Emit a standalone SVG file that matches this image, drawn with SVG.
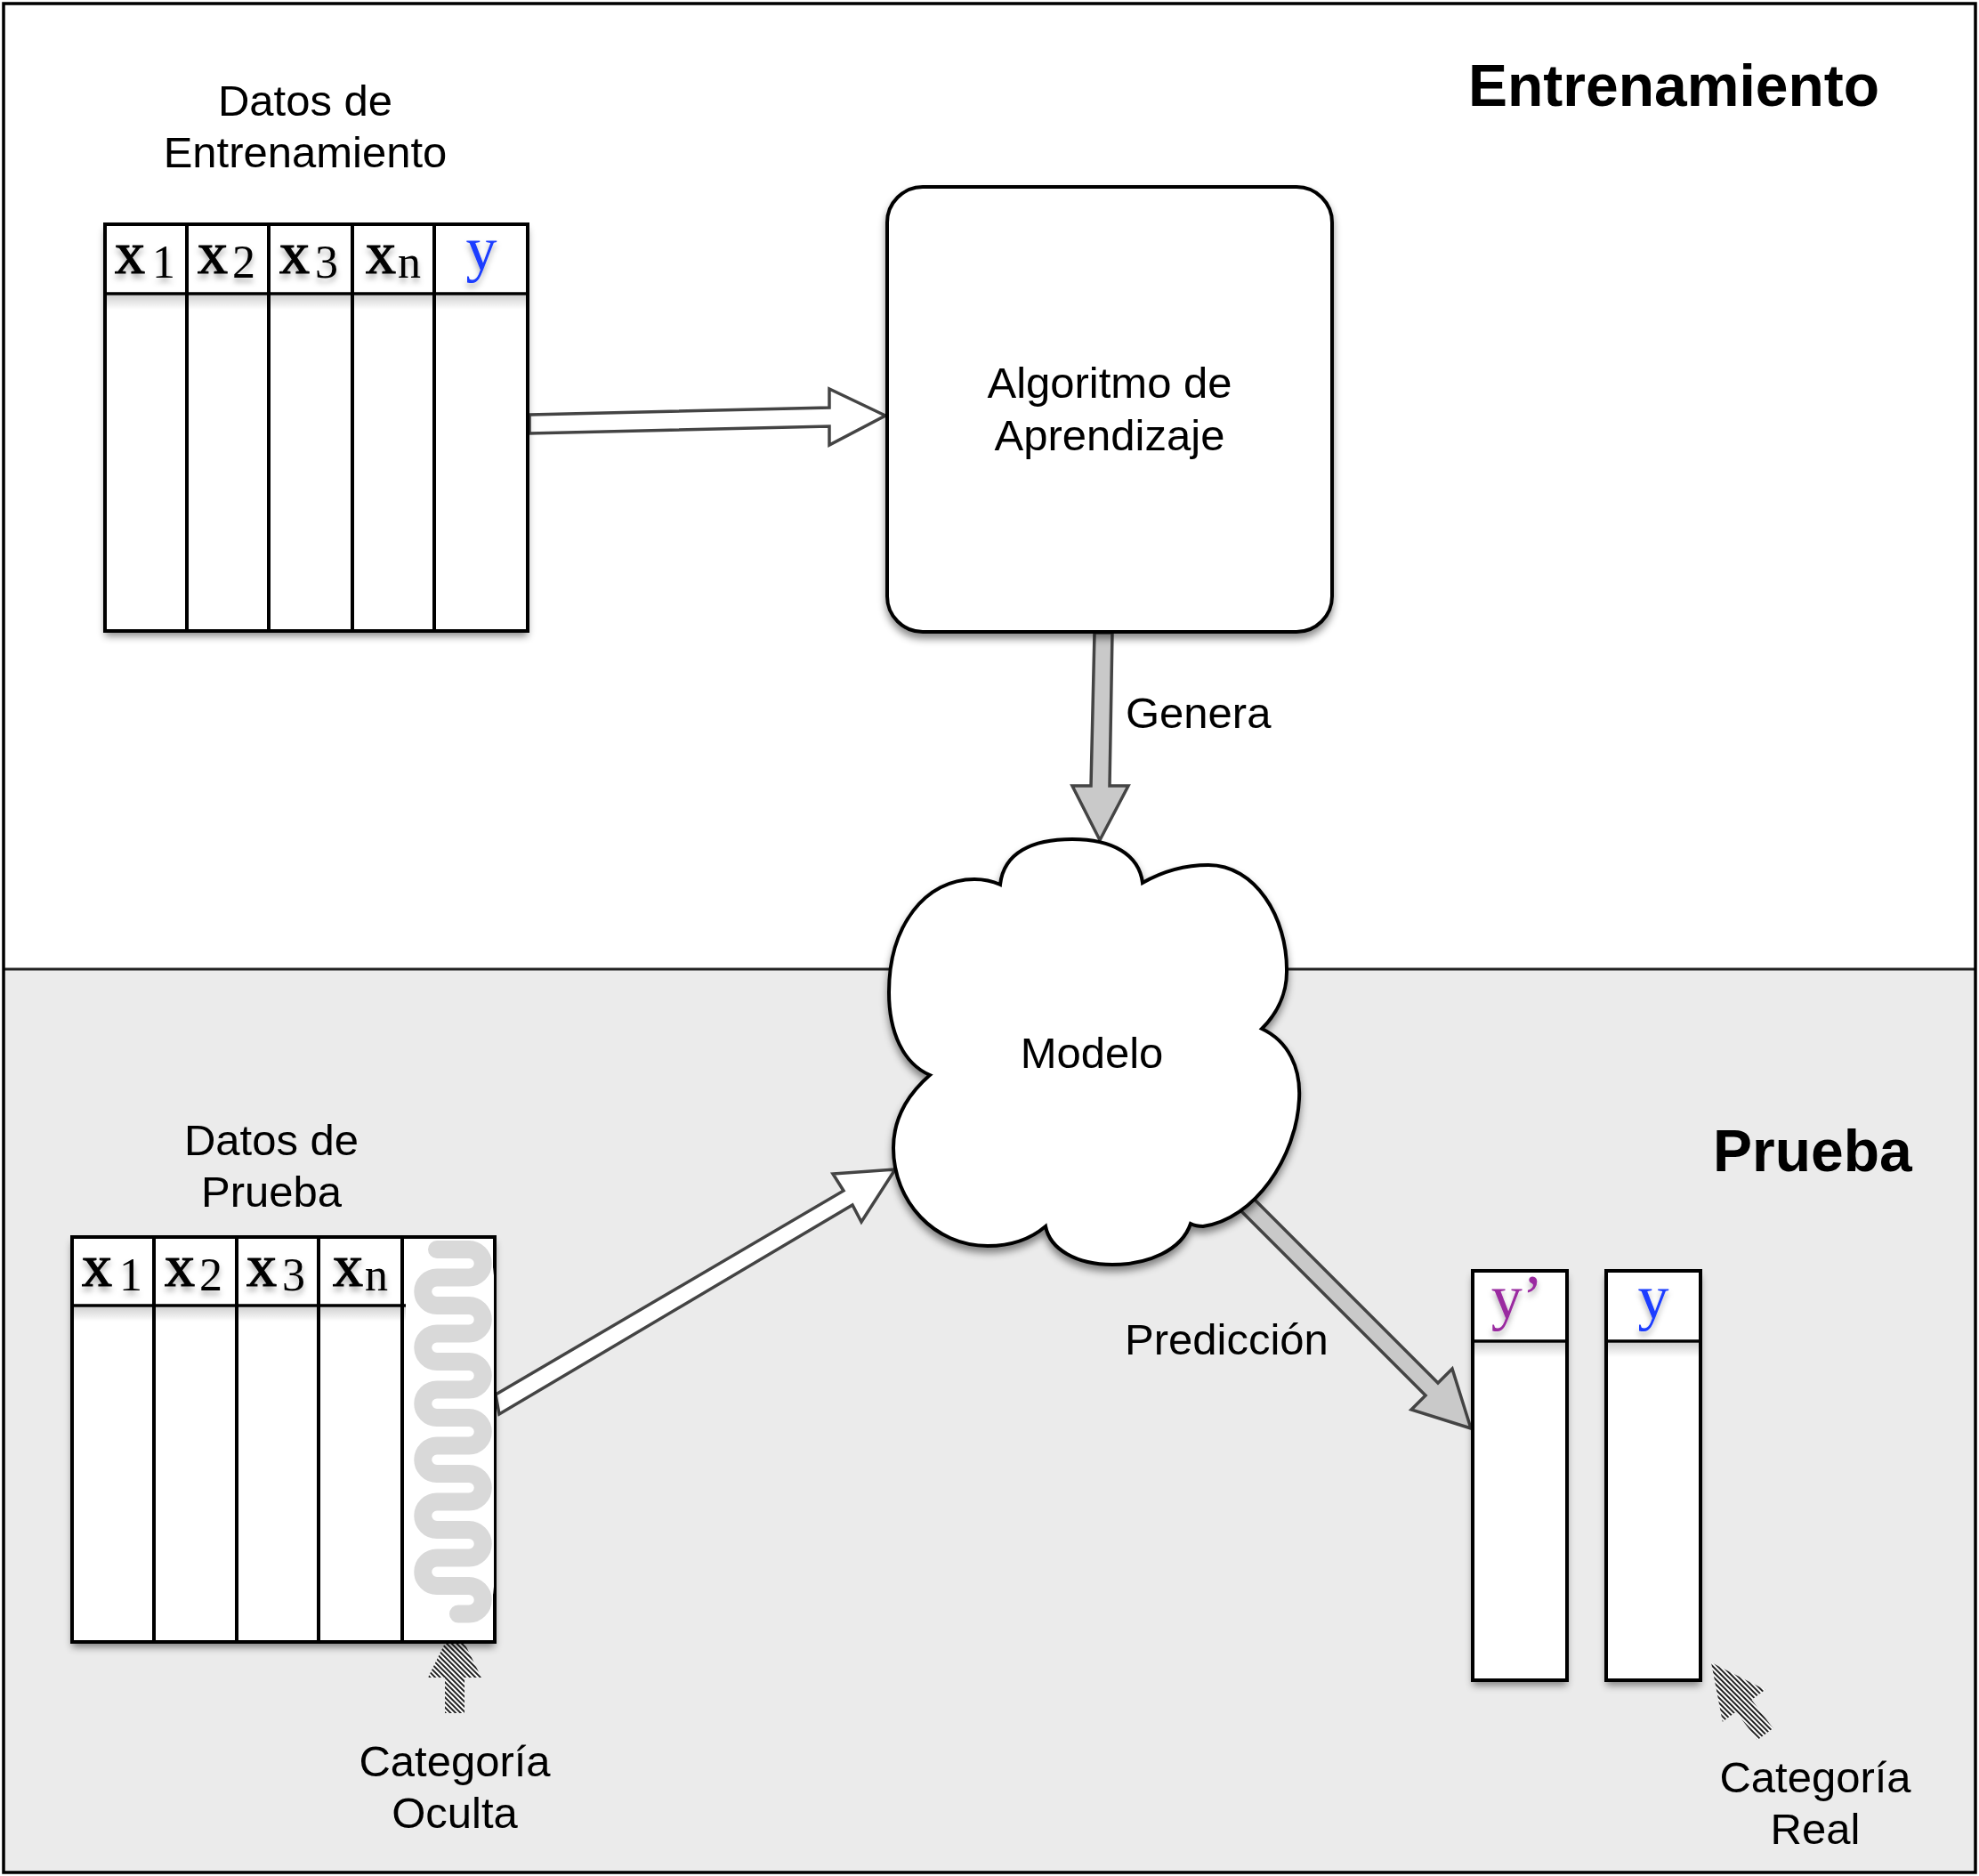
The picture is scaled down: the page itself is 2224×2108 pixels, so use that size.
<svg xmlns="http://www.w3.org/2000/svg" width="2224" height="2108" viewBox="0 0 2224 2108">
<defs>
<style>
.sans{font-family:"Liberation Sans",Arial,Helvetica,sans-serif;font-size:49px;fill:#000}
.title{font-family:"Liberation Sans",Arial,Helvetica,sans-serif;font-size:66px;font-weight:bold;fill:#000}
.ser{font-family:"Liberation Serif","Times New Roman",serif;fill:#000}
.xv{font-size:68px;font-weight:normal;stroke:#000;stroke-width:1.2}
.sub{font-size:52px}
.tbl{fill:none;stroke:#000;stroke-width:4}
.div{stroke:#000;stroke-width:4}
.hl{stroke:#000;stroke-width:3.5}
.hollow{fill:#fff;stroke:#444;stroke-width:3.5;stroke-linejoin:miter}
.solid{fill:#c9c9c9;stroke:#444;stroke-width:3.5;stroke-linejoin:miter}
.hatch{fill:url(#hatch);stroke:none}
</style>
<filter id="sh" x="-10%" y="-10%" width="120%" height="125%">
<feDropShadow dx="0" dy="6" stdDeviation="4" flood-color="#000" flood-opacity="0.45"/>
</filter>
<filter id="tsh" x="-20%" y="-20%" width="140%" height="160%">
<feDropShadow dx="0" dy="5" stdDeviation="3" flood-color="#000" flood-opacity="0.3"/>
</filter>
<linearGradient id="hg" x1="0" y1="0" x2="0" y2="1">
<stop offset="0" stop-color="#000" stop-opacity="0.18"/>
<stop offset="1" stop-color="#000" stop-opacity="0"/>
</linearGradient>
<pattern id="hatch" patternUnits="userSpaceOnUse" width="4" height="4" patternTransform="rotate(-45)">
<rect width="4" height="4" fill="#fff"/>
<rect width="2" height="4" fill="#222"/>
</pattern>
</defs>

<g id="background">
<rect x="4" y="4" width="2216" height="2100" fill="#fff"/>
<rect x="4" y="1089" width="2216" height="1015" fill="#ebebeb"/>
<line x1="4" y1="1089" x2="2220" y2="1089" stroke="#222" stroke-width="3"/>
<rect x="4" y="4" width="2216" height="2100" fill="none" stroke="#000" stroke-width="3.5"/>
<text class="title" x="1650" y="119">Entrenamiento</text>
<text class="title" x="1925" y="1316">Prueba</text>
</g>

<g id="connectors">
<polygon id="edge-train-algo" class="hollow" points="595,466 932,458 932,437 995,467 932,500 932,479 595,487"/>
<polygon id="edge-genera" class="solid" points="1230,711 1250,711 1247,883 1268,883 1236,944 1205,883 1226,883"/>
<text class="sans" x="1265" y="818">Genera</text>
<polygon id="edge-test-model" class="hollow" points="557,1567 948,1338 936,1319 1006,1314 968,1373 958,1354 561,1589"/>
<polygon id="edge-prediccion" class="solid" points="1387,1325 1616,1554 1632,1538 1653,1605 1586,1584 1602,1568 1373,1339"/>
<text class="sans" x="1264" y="1522">Predicción</text>
<polygon id="ptr-oculta" class="hatch" points="511,1824 541,1885 522,1885 522,1925 500,1925 500,1885 481,1885"/>
<polygon id="ptr-real" class="hatch" points="1923,1868 1983.7,1898.7 1968.5,1910.1 1992.6,1942.1 1975,1955.3 1950.9,1923.4 1935.8,1934.8"/>
</g>

<g id="train-label">
<text class="sans" text-anchor="middle" x="343" y="130">Datos de</text>
<text class="sans" text-anchor="middle" x="343" y="188">Entrenamiento</text>
</g>

<g id="train-data">
<rect x="118" y="252" width="475" height="457" fill="#fff" filter="url(#sh)"/>
<rect x="120" y="332" width="471" height="16" fill="url(#hg)"/>
<line class="div" x1="210" y1="252" x2="210" y2="709"/>
<line class="div" x1="302" y1="252" x2="302" y2="709"/>
<line class="div" x1="396" y1="252" x2="396" y2="709"/>
<line class="div" x1="488" y1="252" x2="488" y2="709"/>
<line class="hl" x1="118" y1="330" x2="593" y2="330"/>
<rect class="tbl" x="118" y="252" width="475" height="457"/>
<g filter="url(#tsh)">
<text class="ser" x="129" y="307"><tspan class="xv">x</tspan><tspan class="sub" dx="8" dy="5">1</tspan></text>
<text class="ser" x="222" y="307"><tspan class="xv">x</tspan><tspan class="sub" dx="5" dy="5">2</tspan></text>
<text class="ser" x="314" y="307"><tspan class="xv">x</tspan><tspan class="sub" dx="6" dy="5">3</tspan></text>
<text class="ser" x="411" y="307"><tspan class="xv">x</tspan><tspan class="sub" dx="2" dy="5">n</tspan></text>
<text class="ser" x="541" y="303" text-anchor="middle" font-size="70" style="fill:#1a3cff">y</text>
</g>
</g>

<g id="algoritmo">
<rect x="997" y="210" width="500" height="500" rx="40" ry="40" fill="#fff" stroke="#000" stroke-width="4" filter="url(#sh)"/>
<text class="sans" text-anchor="middle" x="1247" y="447">Algoritmo de</text>
<text class="sans" text-anchor="middle" x="1247" y="506">Aprendizaje</text>
</g>

<g id="modelo">
<path d="M1124,994 C1128,958 1160,943 1205,943 C1250,943 1280,960 1284,992 C1305,980 1330,972 1358,972 C1410,972 1447,1030 1446,1092 C1446,1120 1432,1142 1418,1156 C1448,1170 1462,1200 1460,1235 C1457,1300 1410,1370 1352,1378 C1346,1378 1342,1377 1338,1375 C1328,1405 1290,1421 1250,1421 C1210,1421 1180,1404 1175,1378 C1155,1395 1130,1400 1110,1400 C1050,1400 1004,1350 1004,1290 C1004,1255 1022,1228 1045,1208 C1015,1195 999,1160 999,1115 C999,1040 1040,988 1095,988 C1105,988 1115,990 1124,994 Z" fill="#fff" stroke="#000" stroke-width="4" filter="url(#sh)"/>
<text class="sans" text-anchor="middle" x="1227" y="1200">Modelo</text>
</g>

<g id="test-label">
<text class="sans" text-anchor="middle" x="305" y="1298">Datos de</text>
<text class="sans" text-anchor="middle" x="305" y="1356">Prueba</text>
</g>

<g id="test-data">
<rect x="81" y="1390" width="475" height="455" fill="#fff" filter="url(#sh)"/>
<rect x="83" y="1469" width="378" height="16" fill="url(#hg)"/>
<line class="div" x1="173" y1="1390" x2="173" y2="1845"/>
<line class="div" x1="266" y1="1390" x2="266" y2="1845"/>
<line class="div" x1="358" y1="1390" x2="358" y2="1845"/>
<line class="div" x1="452" y1="1390" x2="452" y2="1845"/>
<line class="hl" x1="81" y1="1467" x2="462" y2="1467"/>
<rect class="tbl" x="81" y="1390" width="475" height="455"/>
<rect x="456" y="1393" width="99" height="430" rx="40" ry="40" fill="#fff"/>
<path d="M491,1404 H527 A15.75,15.75 0 0 1 527,1435.5 H491 A15.75,15.75 0 0 0 491,1467 H527 A15.75,15.75 0 0 1 527,1498.5 H491 A15.75,15.75 0 0 0 491,1530 H527 A15.75,15.75 0 0 1 527,1561.5 H491 A15.75,15.75 0 0 0 491,1593 H527 A15.75,15.75 0 0 1 527,1624.5 H491 A15.75,15.75 0 0 0 491,1656 H527 A15.75,15.75 0 0 1 527,1687.5 H491 A15.75,15.75 0 0 0 491,1719 H527 A15.75,15.75 0 0 1 527,1750.5 H491 A15.75,15.75 0 0 0 491,1782 H527 A15.75,15.75 0 0 1 527,1813.5 H515" fill="none" stroke="#d9d9d9" stroke-width="20" stroke-linecap="round"/>
<g filter="url(#tsh)">
<text class="ser" x="92" y="1445"><tspan class="xv">x</tspan><tspan class="sub" dx="8" dy="5">1</tspan></text>
<text class="ser" x="185" y="1445"><tspan class="xv">x</tspan><tspan class="sub" dx="5" dy="5">2</tspan></text>
<text class="ser" x="277" y="1445"><tspan class="xv">x</tspan><tspan class="sub" dx="6" dy="5">3</tspan></text>
<text class="ser" x="374" y="1445"><tspan class="xv">x</tspan><tspan class="sub" dx="2" dy="5">n</tspan></text>
</g>
</g>

<g id="oculta-label">
<text class="sans" text-anchor="middle" x="511" y="1996">Categoría</text>
<text class="sans" text-anchor="middle" x="511" y="2054">Oculta</text>
</g>

<g id="prediccion-col">
<rect x="1655" y="1428" width="106" height="460" fill="#fff" filter="url(#sh)"/>
<rect x="1657" y="1509" width="102" height="16" fill="url(#hg)"/>
<line class="hl" x1="1655" y1="1507" x2="1761" y2="1507"/>
<rect class="tbl" x="1655" y="1428" width="106" height="460"/>
<text class="ser" x="1705" y="1481" text-anchor="middle" font-size="70" style="fill:#9a2aa0" filter="url(#tsh)">y’</text>
</g>

<g id="real-col">
<rect x="1805" y="1428" width="106" height="460" fill="#fff" filter="url(#sh)"/>
<rect x="1807" y="1509" width="102" height="16" fill="url(#hg)"/>
<line class="hl" x1="1805" y1="1507" x2="1911" y2="1507"/>
<rect class="tbl" x="1805" y="1428" width="106" height="460"/>
<text class="ser" x="1858" y="1481" text-anchor="middle" font-size="70" style="fill:#1a3cff" filter="url(#tsh)">y</text>
</g>

<g id="real-label">
<text class="sans" text-anchor="middle" x="2040" y="2014">Categoría</text>
<text class="sans" text-anchor="middle" x="2040" y="2072">Real</text>
</g>
</svg>
